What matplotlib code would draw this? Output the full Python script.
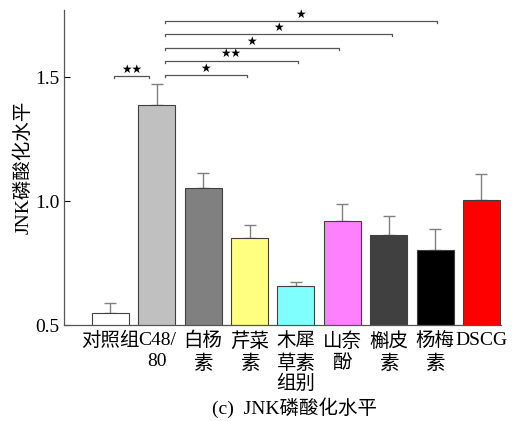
import matplotlib
matplotlib.use('Agg')
import matplotlib.pyplot as plt
import matplotlib.transforms as mtransforms

plt.rcParams['font.family'] = ['Liberation Serif', 'Noto Sans CJK SC']

groups = ['对照组', 'C48/\n80', '白杨\n素', '芹菜\n素', '木犀\n草素', '山奈\n酚', '槲皮\n素', '杨梅\n素', 'DSCG']
values = [0.548, 1.387, 1.052, 0.851, 0.657, 0.919, 0.863, 0.802, 1.004]
errors = [0.041, 0.085, 0.061, 0.052, 0.016, 0.069, 0.077, 0.085, 0.105]
colors = ['#ffffff', '#c0c0c0', '#808080', '#ffff80', '#80ffff', '#ff80ff', '#404040', '#000000', '#ff0000']

# significance brackets: (start, end, height, label)
sig_start = [0.08, 1.17, 1.17, 1.17, 1.17, 1.17]
sig_end = [0.83, 2.94, 4.04, 4.92, 6.07, 7.04]
sig_y = [1.504, 1.508, 1.565, 1.617, 1.673, 1.726]
sig_text = ['**', '*', '**', '*', '*', '*']

fig = plt.figure(figsize=(5.29, 4.21), dpi=100)
ax = fig.add_axes([0.121, 0.228, 0.826, 0.748])

x = list(range(len(groups)))
ax.bar(x, values, width=0.8, color=colors, edgecolor='#404040', linewidth=0.8, zorder=2)
ax.errorbar(x, values, yerr=[[0] * len(errors), errors], fmt='none',
            ecolor='#808080', elinewidth=1.0, capsize=4, capthick=1.0, zorder=1)

for s, e, h, t in zip(sig_start, sig_end, sig_y, sig_text):
    d = 0.008
    ax.plot([s, s, e, e], [h - d, h, h, h - d], color='#555555', lw=0.9, clip_on=False)
    ax.text((s + e) / 2, h + 0.002, t.replace('*', '★'), ha='center', va='bottom',
            fontsize=8.5, family=['DejaVu Sans'], clip_on=False)

ax.set_xlim(-1, 8.42)
ax.set_ylim(0.5, 1.77)
ax.set_yticks([0.5, 1.0, 1.5])
ax.set_yticklabels(['0.5', '1.0', '1.5'])
ax.set_xticks(x)
ax.set_xticklabels(groups, fontsize=14, linespacing=1.3)
ax.tick_params(axis='x', length=0, pad=5)
ax.tick_params(axis='y', labelsize=14, direction='in', length=4, width=0.8, pad=3)
ax.spines['top'].set_visible(False)
ax.spines['right'].set_visible(False)
for sp in ['left', 'bottom']:
    ax.spines[sp].set_color('#555555')
    ax.spines[sp].set_linewidth(0.9)

ax.set_ylabel('JNK磷酸化水平', fontsize=14, labelpad=2)
trans = mtransforms.blended_transform_factory(ax.transData, fig.transFigure)
ax.text(4, 1 - 384 / 421, '组别', transform=trans, ha='center', va='center', fontsize=14)
fig.text(295 / 529, 1 - 408 / 421, '(c)  JNK磷酸化水平', ha='center', va='center', fontsize=14)

fig.savefig('out.png', dpi=100)
